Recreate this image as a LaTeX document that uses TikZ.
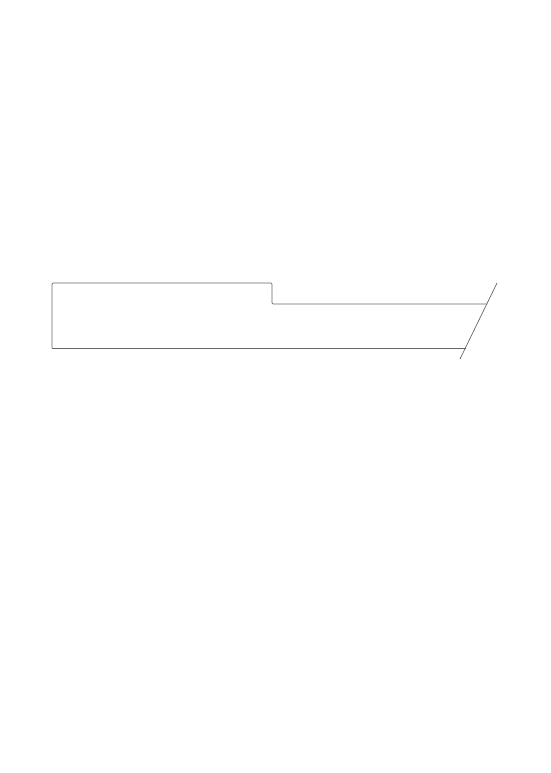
\documentclass[tikz,border=0pt]{standalone}
\begin{document}
\begin{tikzpicture}[x=1pt,y=-1pt,outline/.style={draw=black!60,line width=0.7pt}]
\useasboundingbox (0,0) rectangle (550,773);
\coordinate (bl) at (52,348);
\coordinate (tl) at (52,283);
\coordinate (st) at (272,283);
\coordinate (sb) at (272,304);
\coordinate (ur) at (487,304);
\coordinate (lr) at (466,348);
\coordinate (ctop) at (497,283);
\coordinate (cbot) at (460,359);
\draw[outline,rounded corners=1.2pt] (bl) -- (tl) -- (st) -- (sb) -- (ur);
\draw[outline] (bl) -- (lr);
\draw[outline] (ctop) -- (cbot);
\end{tikzpicture}
\end{document}
